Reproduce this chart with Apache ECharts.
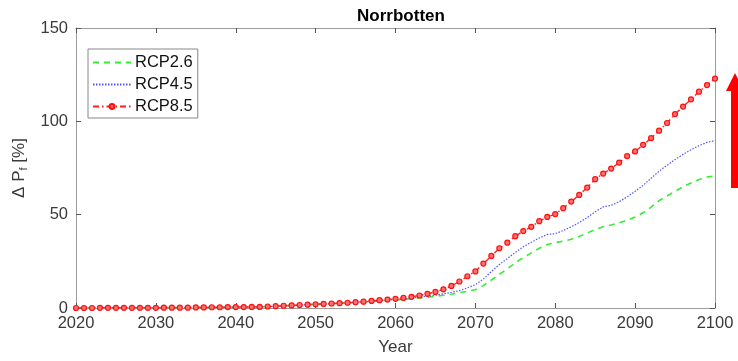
<!DOCTYPE html>
<html>
<head>
<meta charset="utf-8">
<script src="https://cdn.jsdelivr.net/npm/echarts@6/dist/echarts.min.js"></script>
<style>
  html, body { margin: 0; padding: 0; background: #fff; }
  #chart { width: 738px; height: 361px; }
</style>
</head>
<body>
<div id="chart"></div>
<script>
// Projected change in P_f for Norrbotten, 2020-2100, one value per year
const years = [];
for (let y = 2020; y <= 2100; y++) years.push(y);

const rcp26 = [
  0, 0, 0, 0.1, 0.1, 0.1, 0.1, 0.1, 0.1, 0.1,
  0.1, 0.2, 0.2, 0.2, 0.2, 0.3, 0.3, 0.4, 0.4, 0.5,
  0.5, 0.5, 0.6, 0.6, 0.8, 1.0, 1.2, 1.4, 1.6, 1.8,
  2.0, 2.2, 2.4, 2.6, 2.8, 3.0, 3.2, 3.5, 3.8, 4.0,
  4.3, 4.6, 5.0, 5.4, 5.8, 6.3, 6.8, 7.4, 8.2, 9.0,
  9.8, 12.0, 15.0, 18.0, 21.0, 24.2, 27.0, 29.5, 32.0, 34.0,
  35.0, 35.8, 36.8, 38.3, 40.2, 42.0, 43.5, 44.5, 45.6, 47.0,
  48.8, 51.0, 54.0, 57.5, 60.0, 62.5, 65.0, 67.0, 68.8, 70.2,
  70.8
];
const rcp45 = [
  0, 0, 0, 0.1, 0.1, 0.1, 0.1, 0.1, 0.1, 0.1,
  0.1, 0.2, 0.2, 0.2, 0.2, 0.3, 0.3, 0.4, 0.4, 0.5,
  0.5, 0.5, 0.6, 0.6, 0.8, 1.0, 1.2, 1.4, 1.6, 1.8,
  2.0, 2.2, 2.4, 2.6, 2.8, 3.0, 3.3, 3.6, 3.9, 4.2,
  4.6, 4.9, 5.3, 5.8, 6.3, 6.9, 7.6, 8.4, 9.3, 10.8,
  12.5, 15.5, 19.5, 23.3, 26.5, 29.8, 32.8, 35.2, 37.5, 39.4,
  39.8, 41.5, 43.5, 45.8, 48.5, 51.5, 54.2, 55.0, 57.0, 59.5,
  62.5, 65.7, 69.5, 73.3, 76.5, 79.5, 82.3, 84.8, 87.0, 88.7,
  89.7
];
const rcp85 = [
  0, 0, 0, 0.1, 0.1, 0.1, 0.1, 0.1, 0.1, 0.1,
  0.1, 0.2, 0.2, 0.2, 0.2, 0.3, 0.3, 0.4, 0.4, 0.5,
  0.5, 0.5, 0.6, 0.6, 0.8, 1.0, 1.2, 1.4, 1.6, 1.8,
  2.0, 2.2, 2.4, 2.6, 2.8, 3.1, 3.4, 3.8, 4.2, 4.5,
  4.9, 5.4, 6.0, 6.7, 7.6, 8.6, 10.0, 11.8, 14.2, 17.0,
  19.6, 23.8, 27.9, 32.0, 35.0, 38.5, 41.2, 43.5, 46.5, 48.8,
  50.3, 53.5, 57.0, 60.6, 64.5, 69.0, 72.0, 74.7, 77.9, 81.4,
  83.9, 87.4, 91.0, 95.0, 99.1, 103.9, 107.9, 111.8, 115.9, 119.4,
  122.9
];

const xTicks = [2020, 2030, 2040, 2050, 2060, 2070, 2080, 2090, 2100];
const yTicks = [0, 50, 100, 150];

const pairs = vals => years.map((y, i) => [y, vals[i]]);

const FONT = '"Liberation Sans", Arial, sans-serif';
const AXIS_GREY = '#9a9a9a';
const LABEL_GREY = '#3a3a3a';

const chart = echarts.init(document.getElementById('chart'), null, { renderer: 'canvas' });

const baseX = {
  type: 'value',
  min: xTicks[0],
  max: xTicks[xTicks.length - 1],
  interval: 10,
  splitLine: { show: false },
  axisLine: { show: true, onZero: false, lineStyle: { color: AXIS_GREY, width: 1 } },
  axisTick: { show: true, inside: true, length: 5, lineStyle: { color: '#555' } }
};
const baseY = {
  type: 'value',
  min: yTicks[0],
  max: yTicks[yTicks.length - 1],
  interval: 50,
  splitLine: { show: false },
  axisLine: { show: true, onZero: false, lineStyle: { color: AXIS_GREY, width: 1 } },
  axisTick: { show: true, inside: true, length: 5, lineStyle: { color: '#555' } }
};

chart.setOption({
  animation: false,
  backgroundColor: '#fff',
  textStyle: { fontFamily: FONT },
  title: {
    text: 'Norrbotten',
    left: 396,
    top: 3,
    textAlign: 'center',
    textStyle: { fontFamily: FONT, fontSize: 17, fontWeight: 'bold', color: '#000' }
  },
  grid: { left: 76, right: 23, top: 28, bottom: 50, containLabel: false },
  legend: {
    orient: 'vertical',
    left: 88,
    top: 49,
    itemWidth: 38,
    itemHeight: 6,
    itemGap: 5,
    padding: [5, 5, 3, 4],
    borderColor: '#888',
    borderWidth: 1,
    backgroundColor: '#fff',
    textStyle: { fontFamily: FONT, fontSize: 16.5, color: '#111', padding: [0, 0, 0, -1] },
    data: [
      { name: 'RCP2.6', itemStyle: { opacity: 0 } },
      { name: 'RCP4.5', itemStyle: { opacity: 0 } },
      { name: 'RCP8.5' }
    ]
  },
  xAxis: [
    Object.assign({}, baseX, {
      position: 'bottom',
      name: 'Year',
      nameLocation: 'middle',
      nameGap: 31,
      nameTextStyle: { fontFamily: FONT, fontSize: 17, color: LABEL_GREY },
      axisLabel: { fontFamily: FONT, fontSize: 16.5, color: LABEL_GREY, margin: 7, formatter: v => String(v) }
    }),
    Object.assign({}, baseX, { position: 'top', axisLabel: { show: false } })
  ],
  yAxis: [
    Object.assign({}, baseY, {
      position: 'left',
      name: 'Δ P{s|f} [%]',
      nameLocation: 'middle',
      nameGap: 40,
      nameRotate: 90,
      nameTextStyle: {
        fontFamily: FONT, fontSize: 17, color: LABEL_GREY,
        rich: { s: { fontFamily: FONT, fontSize: 11, color: LABEL_GREY, padding: [9, 0, 0, 0] } }
      },
      axisLabel: { fontFamily: FONT, fontSize: 16.5, color: LABEL_GREY, margin: 8 }
    }),
    Object.assign({}, baseY, { position: 'right', axisLabel: { show: false } })
  ],
  series: [
    {
      name: 'RCP2.6',
      type: 'line',
      data: pairs(rcp26),
      showSymbol: false,
      symbol: 'none',
      lineStyle: { color: '#33ee33', width: 1.6, type: [6, 5] },
      itemStyle: { color: '#33ee33' },
      z: 2
    },
    {
      name: 'RCP4.5',
      type: 'line',
      data: pairs(rcp45),
      showSymbol: false,
      symbol: 'none',
      lineStyle: { color: '#5555ff', width: 1.2, type: [1.5, 1.5] },
      itemStyle: { color: '#5555ff' },
      z: 3
    },
    {
      name: 'RCP8.5',
      type: 'line',
      data: pairs(rcp85),
      symbol: 'circle',
      symbolSize: 5,
      showSymbol: true,
      lineStyle: { color: '#ff2020', width: 1.4, type: [6, 3, 1.5, 3] },
      itemStyle: { color: '#ff7070', borderColor: '#ff1010', borderWidth: 1.2 },
      z: 4
    }
  ],
  graphic: [
    {
      // upward arrow beside the plot
      type: 'polygon',
      shape: {
        points: [
          [735, 73], [744, 91], [739, 91], [739, 188], [731, 188], [731, 91], [726, 91]
        ]
      },
      style: { fill: '#ff0000' },
      z: 10
    }
  ]
});
</script>
</body>
</html>
